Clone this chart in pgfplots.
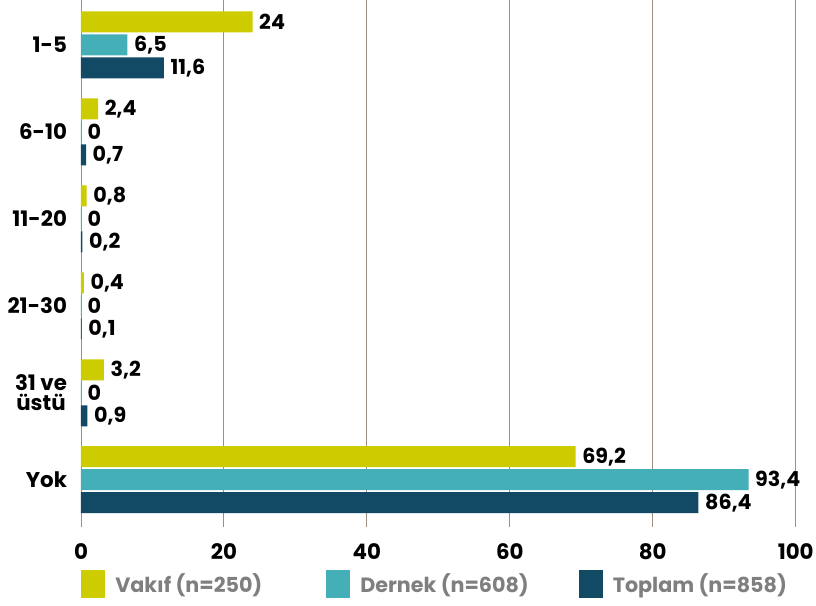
\documentclass[border=0pt]{standalone}
\usepackage{fontspec}
\setmainfont{Poppins}
\usepackage{pgfplots}
\usepackage{pgfplotstable}
\pgfplotsset{compat=1.18}
\definecolor{cY}{HTML}{CCCC00}
\definecolor{cT}{HTML}{45AFB8}
\definecolor{cD}{HTML}{124A66}
\definecolor{grd}{HTML}{9C8E84}
\definecolor{lgt}{HTML}{7F7F7F}

\pgfplotstableread{
x y l
24 0 24
2.4 1 {2,4}
0.8 2 {0,8}
0.4 3 {0,4}
3.2 4 {3,2}
69.2 5 {69,2}
}\vakif
\pgfplotstableread{
x y l
6.5 0 {6,5}
0 1 0
0 2 0
0 3 0
0 4 0
93.4 5 {93,4}
}\dernek
\pgfplotstableread{
x y l
11.6 0 {11,6}
0.7 1 {0,7}
0.2 2 {0,2}
0.1 3 {0,1}
0.9 4 {0,9}
86.4 5 {86,4}
}\toplam

\begin{document}
\begin{tikzpicture}
\begin{axis}[
  at={(0,0)}, anchor=south west,
  width=536pt, height=389pt, scale only axis,
  xbar, bar width=15.75pt,
  xmin=0, xmax=100,
  ymin=-0.517, ymax=5.448, y dir=reverse,
  ytick={0,1,2,3,4,5},
  yticklabels={1-5,6-10,11-20,21-30,{31 ve\\üstü},Yok},
  yticklabel style={align=center, font=\fontsize{16}{15}\selectfont\bfseries, xshift=-1pt},
  xtick={0,20,40,60,80,100},
  xticklabel style={font=\fontsize{16}{17}\selectfont\bfseries, yshift=-9pt},
  /pgf/number format/assume math mode=true,
  axis line style={draw=none},
  xmajorgrids, grid style={grd, line width=0.7pt},
  major tick style={grd, line width=0.7pt},
  xtick align=outside, major tick length=6pt,
  ytick style={draw=none},
  nodes near coords,
  point meta=explicit symbolic,
  every node near coord/.append style={font=\fontsize{15.5}{16}\selectfont\bfseries, black, anchor=west, xshift=1.5pt},
  legend style={draw=none, at={(0,-0.126)}, anchor=west, inner sep=0pt,
     legend columns=3, font=\fontsize{15.5}{16}\selectfont\bfseries, text=lgt,
     /tikz/every odd column/.append style={column sep=5.5pt},
     /tikz/column 2/.style={column sep=46pt},
     /tikz/column 4/.style={column sep=35.5pt}},
  legend image code/.code={\fill[#1] (0pt,-10.5pt) rectangle (18pt,10.5pt);},
]
\addplot[fill=cY, draw=none, bar shift=17.25pt] table[x=x, y=y, meta=l] {\vakif};
\addplot[fill=cT, draw=none, bar shift=0pt] table[x=x, y=y, meta=l] {\dernek};
\addplot[fill=cD, draw=none, bar shift=-17.25pt] table[x=x, y=y, meta=l] {\toplam};
\legend{Vakıf (n=250), Dernek (n=608), Toplam (n=858)}
\end{axis}
\pgfresetboundingbox
\path[use as bounding box] (-60.75pt,-65.25pt) rectangle (551.25pt,389pt);
\end{tikzpicture}
\end{document}
